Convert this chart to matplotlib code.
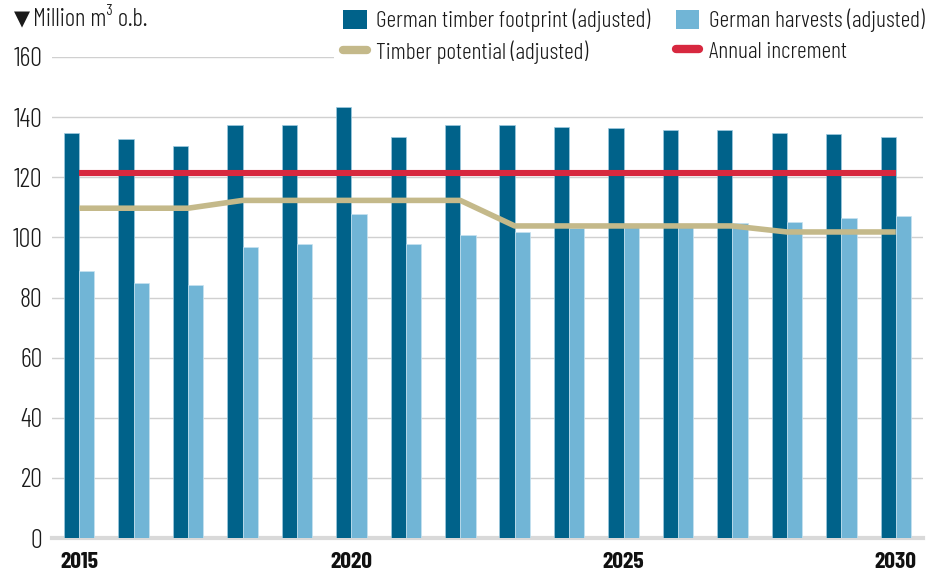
import matplotlib
matplotlib.use("Agg")
import matplotlib.pyplot as plt
from matplotlib.patches import Patch
from matplotlib.lines import Line2D
import numpy as np

# --- data (million m³ over bark) ---
years = list(range(2015, 2031))
footprint = [134.8, 132.8, 130.3, 137.4, 137.4, 143.4, 133.3, 137.4,
             137.4, 136.8, 136.3, 135.8, 135.8, 134.8, 134.4, 133.3]
harvests = [88.7, 84.7, 84.2, 96.8, 97.8, 107.8, 97.8, 100.8,
            101.8, 103.0, 103.5, 104.0, 104.7, 105.2, 106.3, 107.2]
potential = [109.7, 109.7, 109.7, 112.3, 112.3, 112.3, 112.3, 112.3,
             103.8, 103.8, 103.8, 103.8, 103.8, 101.8, 101.8, 101.8]
increment = [121.3] * 16
yticks = [0, 20, 40, 60, 80, 100, 120, 140, 160]
xlabel_years = [2015, 2020, 2025, 2030]

# --- styling ---
plt.rcParams["font.family"] = ["Barlow Condensed", "DejaVu Sans"]
plt.rcParams["font.weight"] = 300

c_dark = "#00628a"
c_light = "#71b5d6"
c_pot = "#c4b98a"
c_inc = "#d7283f"
c_grid = "#d0d0d0"
c_text = "#1a1a1a"
fs = 17

fig = plt.figure(figsize=(9.28, 5.73), dpi=100)
ax = fig.add_axes([52 / 928, 1 - 538 / 573, (923 - 52) / 928, (538 - 57) / 573])

x = np.arange(len(years))
w = 0.28
ax.bar(x - w / 2, footprint, width=w, color=c_dark, edgecolor="#9fcbe0",
       linewidth=0.5, zorder=2)
ax.bar(x + w / 2, harvests, width=w, color=c_light, edgecolor="#c7e3f0",
       linewidth=0.5, zorder=2)
ax.plot(x, increment, color=c_inc, lw=4.4, solid_capstyle="butt", zorder=3)
ax.plot(x, potential, color=c_pot, lw=4.0, solid_capstyle="butt",
        solid_joinstyle="round", zorder=3)

ax.set_xlim(-0.5, len(years) - 0.5)
ax.set_ylim(0, 160)
ax.set_yticks(yticks)
ax.set_yticklabels([str(v) for v in yticks], fontsize=19, color=c_text,
                   fontweight=300)
ax.yaxis.grid(True, color=c_grid, lw=1, zorder=0)
ax.axhline(0, color="#d9d9d9", lw=3, zorder=1, clip_on=False)
ax.set_axisbelow(True)

ax.set_xticks([years.index(y) for y in xlabel_years])
ax.set_xticklabels([str(y) for y in xlabel_years], fontsize=fs,
                   fontweight="bold", color="#111111")
ax.tick_params(axis="both", length=0)
ax.tick_params(axis="y", pad=7)
ax.tick_params(axis="x", pad=10)
for s in ax.spines.values():
    s.set_visible(False)

fig.text(14 / 928, 1 - 19 / 573, "▼", fontsize=15, va="center", ha="left",
         color=c_text, family="DejaVu Sans")
fig.text(33 / 928, 1 - 19 / 573, "Million m³ o.b.", fontsize=18,
         va="center", ha="left", color=c_text, fontweight=300)

handles = [
    Patch(facecolor=c_dark, label="German timber footprint (adjusted)"),
    Line2D([0], [0], color=c_pot, lw=6, solid_capstyle="round",
           label="Timber potential (adjusted)"),
    Patch(facecolor=c_light, label="German harvests (adjusted)"),
    Line2D([0], [0], color=c_inc, lw=6, solid_capstyle="round",
           label="Annual increment"),
]
leg = fig.legend(handles=handles, ncol=2, loc="upper left",
                 bbox_to_anchor=(334 / 928, 1.0),
                 prop={"size": fs, "weight": 300}, frameon=True,
                 facecolor="white", edgecolor="none", framealpha=1,
                 handlelength=1.0, handleheight=0.9, handletextpad=0.4,
                 columnspacing=1.08, labelspacing=0.32, borderpad=0.38,
                 borderaxespad=0.0)
for t in leg.get_texts():
    t.set_color(c_text)
leg.set_zorder(5)

fig.savefig("out.png", dpi=100)
